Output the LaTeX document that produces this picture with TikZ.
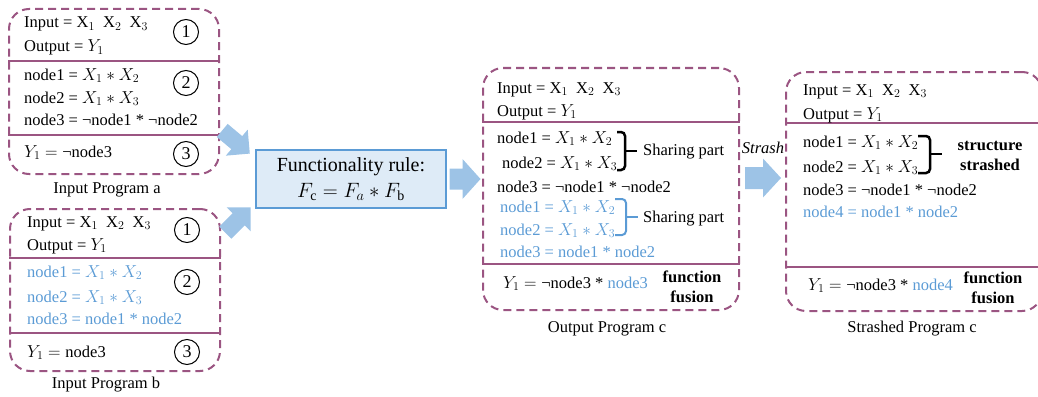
\documentclass[tikz,border=0pt]{standalone}
\usepackage{fontspec}
\setmainfont{Liberation Serif}

\definecolor{frame}{HTML}{9B5582}
\definecolor{acc}{HTML}{5B9BD5}
\definecolor{arrowfill}{HTML}{9DC3E6}
\definecolor{rulefill}{HTML}{DEEBF7}

\tikzset{
  prog/.style={draw=frame, line width=2pt, dash pattern=on 8pt off 5pt,
    rounded corners=20pt, inner sep=0pt, anchor=north west},
  divider/.style={draw=frame, line width=2.2pt},
  txt/.style={anchor=base west, inner sep=0pt, font=\fontsize{16.5}{19}\selectfont},
  hi/.style={txt, text=acc},
  caption/.style={anchor=base, inner sep=0pt, font=\fontsize{16.5}{19}\selectfont},
  tag/.style={anchor=base, inner sep=0pt, align=center,
    font=\fontsize{16.5}{19.5}\selectfont\bfseries},
  num/.style={circle, draw, line width=1pt, minimum size=25pt, inner sep=0pt,
    font=\fontsize{18}{19}\selectfont},
  brace/.style={line width=2.5pt, rounded corners=4pt},
}

% block arrow: centre x, centre y, angle, length, head width, shaft width, head length
\newcommand{\flatarrow}[7]{%
  \fill[arrowfill, shift={(#1,#2)}, rotate=#3]
    ({-#4/2},{-#6/2}) -- ({#4/2-#7},{-#6/2}) -- ({#4/2-#7},{-#5/2})
    -- ({#4/2},0) -- ({#4/2-#7},{#5/2}) -- ({#4/2-#7},{#6/2})
    -- ({-#4/2},{#6/2}) -- cycle;}

\begin{document}
\begin{tikzpicture}[x=1pt, y=-1pt]
\useasboundingbox (0,0) rectangle (1038,396);

% ---------- Input Program a ----------
\node[prog, minimum width=210pt, minimum height=165pt] (boxa) at (8,8) {};
\draw[divider] (boxa.west |- 0,61) -- (boxa.east |- 0,61);
\draw[divider] (boxa.west |- 0,135) -- (boxa.east |- 0,135);
\node[txt] (a1) at (24,28) {Input = X$_1$\ \ X$_2$\ \ X$_3$};
\node[txt] (a2) at (24,52) {Output = $Y_1$};
\node[txt] (a3) at (24,80) {node1 = $X_1 \ast X_2$};
\node[txt] (a4) at (24,103) {node2 = $X_1 \ast X_3$};
\node[txt] (a5) at (24,125) {node3 = ¬node1 * ¬node2};
\node[txt] (a6) at (24,157) {$Y_1 = {}$¬node3};
\node[num] (na1) at (186,32) {1};
\node[num] (na2) at (186,83) {2};
\node[num] (na3) at (186,154) {3};
\node[caption] (capa) at (107,193) {Input Program a};

% ---------- Input Program b ----------
\node[prog, minimum width=210pt, minimum height=162pt] (boxb) at (9,208) {};
\draw[divider] (boxb.west |- 0,258) -- (boxb.east |- 0,258);
\draw[divider] (boxb.west |- 0,333) -- (boxb.east |- 0,333);
\node[txt] (b1) at (27,227) {Input = X$_1$\ \ X$_2$\ \ X$_3$};
\node[txt] (b2) at (27,250) {Output = $Y_1$};
\node[hi] (b3) at (27,277) {node1 = $X_1 \ast X_2$};
\node[hi] (b4) at (27,302) {node2 = $X_1 \ast X_3$};
\node[hi] (b5) at (27,324) {node3 = node1 * node2};
\node[txt] (b6) at (27,357) {$Y_1 = {}$node3};
\node[num] (nb1) at (187,230) {1};
\node[num] (nb2) at (187,282) {2};
\node[num] (nb3) at (187,352) {3};
\node[caption] (capb) at (106,388) {Input Program b};

% ---------- Functionality rule ----------
\node[draw=acc, fill=rulefill, line width=1.5pt, minimum width=190pt,
  minimum height=58pt, inner sep=0pt, align=center,
  font=\fontsize{20}{27}\selectfont] (rule) at (351,179)
  {Functionality rule:\\[-1pt]$F_{\mathrm{c}} = F_a \ast F_{\mathrm{b}}$};

% arrows feeding the rule and leaving it
\flatarrow{236}{142}{-40}{36}{34}{17}{17}
\flatarrow{238}{220}{45}{36}{34}{17}{17}
\flatarrow{465}{179}{0}{31}{40}{21}{18}

% ---------- Output Program c ----------
\node[prog, minimum width=256pt, minimum height=242pt] (boxc) at (482,67) {};
\draw[divider] (boxc.west |- 0,122) -- (boxc.east |- 0,122);
\draw[divider] (boxc.west |- 0,264) -- (boxc.east |- 0,264);
\node[txt] (c1) at (497,93) {Input = X$_1$\ \ X$_2$\ \ X$_3$};
\node[txt] (c2) at (497,116) {Output = $Y_1$};
\node[txt] (c3) at (497,143) {node1 = $X_1 \ast X_2$};
\node[txt] (c4) at (502,168) {node2 = $X_1 \ast X_3$};
\node[txt] (c5) at (497,192) {node3 = ¬node1 * ¬node2};
\node[hi] (c6) at (500,212) {node1 = $X_1 \ast X_2$};
\node[hi] (c7) at (500,235) {node2 = $X_1 \ast X_3$};
\node[hi] (c8) at (500,257) {node3 = node1 * node2};
\node[txt] (c9) at (503,288) {$Y_1 = {}$¬node3 * \textcolor{acc}{node3}};
\node[tag] (cfus) at (692,302) {function\\fusion};
\node[txt] (share1) at (643,155) {Sharing part};
\node[txt] (share2) at (643,222) {Sharing part};
\draw[brace] (617,132) -- (625,132) -- (625,170) -- (617,170);
\draw[line width=2.5pt] (625,151) -- ([xshift=-6pt]share1.west |- 0,151);
\draw[brace, acc, line width=2pt] (615,199) -- (626,199) -- (626,235) -- (615,235);
\draw[acc, line width=2pt] (626,217) -- ([xshift=-5pt]share2.west |- 0,217);
\node[caption] (capc) at (607,332) {Output Program c};

% ---------- Strash step ----------
\flatarrow{763}{178}{0}{36}{39}{22}{18}
\node[anchor=base, inner sep=0pt, font=\fontsize{16.5}{19}\selectfont\itshape]
  (strash) at (763,153) {Strash};

% ---------- Strashed Program c ----------
\node[prog, minimum width=256pt, minimum height=239pt] (boxd) at (785,71) {};
\draw[divider] (boxd.west |- 0,123) -- (boxd.east |- 0,123);
\draw[divider] (boxd.west |- 0,267) -- (boxd.east |- 0,267);
\node[txt] (d1) at (803,95) {Input = X$_1$\ \ X$_2$\ \ X$_3$};
\node[txt] (d2) at (803,119) {Output = $Y_1$};
\node[txt] (d3) at (803,147) {node1 = $X_1 \ast X_2$};
\node[txt] (d4) at (803,172) {node2 = $X_1 \ast X_3$};
\node[txt] (d5) at (803,195) {node3 = ¬node1 * ¬node2};
\node[hi] (d6) at (803,217) {node4 = node1 * node2};
\node[txt] (d7) at (808,290) {$Y_1 = {}$¬node3 * \textcolor{acc}{node4}};
\node[tag] (dstr) at (990,170) {structure\\strashed};
\node[tag] (dfus) at (993,303) {function\\fusion};
\draw[brace] (918,136) -- (930,136) -- (930,173) -- (918,173);
\draw[line width=2.5pt] (930,154) -- (942,154);
\node[caption] (capd) at (912,332) {Strashed Program c};
\end{tikzpicture}
\end{document}
